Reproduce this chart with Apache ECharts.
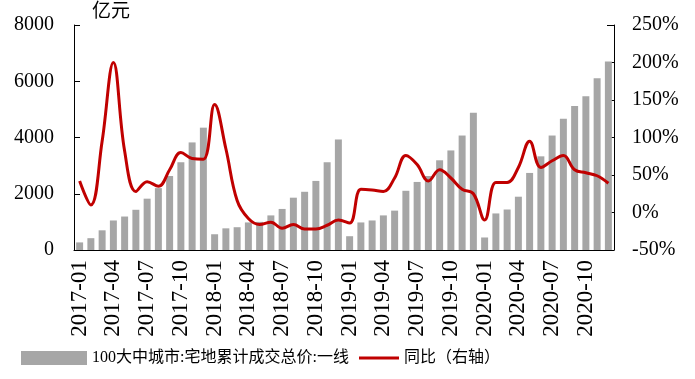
<!DOCTYPE html>
<html><head><meta charset="utf-8">
<script src="https://cdn.jsdelivr.net/npm/echarts@6/dist/echarts.min.js"></script>
<style>html,body{margin:0;padding:0;background:#fff}#c{width:695px;height:379px}</style>
</head><body><div id="c"></div>
<script>
var categories = [];
var years = ['2017','2018','2019','2020'];
for (var y = 0; y < years.length; y++) { for (var m = 1; m <= 12; m++) { categories.push(years[y] + '-' + (m < 10 ? '0' + m : '' + m)); } }
var barValues = [270,420,700,1050,1190,1430,1825,2200,2630,3120,3825,4350,
  560,770,810,980,1000,1230,1460,1860,2070,2456,3120,3930,
  490,980,1050,1230,1400,2105,2420,2630,3190,3540,4070,4880,
  445,1300,1440,1895,2740,3330,4070,4670,5120,5470,6105,6700];
var yoyValues = [42,10,95,200,82,28,41,35,57,80,72,71,
  144,85,16,-8,-16,-13,-21,-16,-22,-22,-17,-10,
  -14,31,30,28,46,76,64,42,57,46,31,25,
  -10,40,40,60,95,60,69,76,57,53,49,39];
var seriesNames = ['100大中城市:宅地累计成交总价:一线','同比（右轴）'];

var serif = '"Liberation Serif","Times New Roman",serif';
var legendFont = {fontFamily:'"Liberation Serif","Noto Sans CJK SC",serif',fontSize:16,color:'#000'};
var chart = echarts.init(document.getElementById('c'));
chart.setOption({
  animation:false,
  grid:{left:74,right:81,top:22,bottom:129},
  legend:[{top:345,left:16,icon:'rect',itemWidth:66,itemHeight:14,textStyle:legendFont,data:[seriesNames[0]]},
          {top:345,left:354,icon:'rect',itemWidth:40,itemHeight:3,textStyle:legendFont,data:[seriesNames[1]]}],
  xAxis:{type:'category',data:categories,boundaryGap:true,
    axisLine:{lineStyle:{color:'#000',width:1}},
    axisTick:{interval:2,length:5,lineStyle:{color:'#000'}},
    axisLabel:{interval:2,rotate:90,fontFamily:serif,fontSize:23,color:'#000',margin:10}},
  yAxis:[{type:'value',min:0,max:8000,interval:2000,name:'亿元',
      nameLocation:'end',nameGap:6,nameTextStyle:{fontFamily:'"Noto Sans CJK SC",sans-serif',fontSize:19,color:'#000',align:'left',padding:[0,0,0,18]},
      axisLine:{show:true,lineStyle:{color:'#000'}},
      axisTick:{show:true,inside:true,length:6,lineStyle:{color:'#000'}},
      splitLine:{show:false},
      axisLabel:{fontFamily:serif,fontSize:20,color:'#000',margin:20,formatter:function(v){return String(v);}}},
    {type:'value',min:-50,max:250,interval:50,
      axisLine:{show:true,lineStyle:{color:'#000'}},
      axisTick:{show:true,inside:true,length:7,lineStyle:{color:'#000'}},
      splitLine:{show:false},
      axisLabel:{fontFamily:serif,fontSize:20,color:'#000',margin:18,formatter:'{value}%'}}],
  series:[{name:seriesNames[0],type:'bar',data:barValues,yAxisIndex:0,barCategoryGap:'38%',itemStyle:{color:'#a6a6a6'}},
    {name:seriesNames[1],type:'line',data:yoyValues,yAxisIndex:1,smooth:0.4,symbol:'none',
      lineStyle:{color:'#c00000',width:3},itemStyle:{color:'#c00000'}}]
});
</script></body></html>
